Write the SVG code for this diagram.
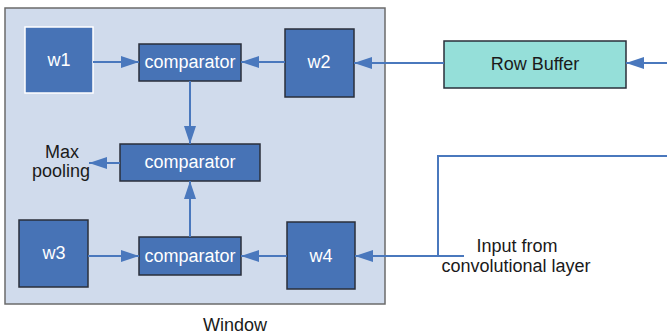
<svg xmlns="http://www.w3.org/2000/svg" width="667" height="335" viewBox="0 0 667 335">
<style>
  .blk { fill: #4773B6; stroke: #2a2f3a; stroke-width: 1.5; }
  .wt { fill: #ffffff; font-family: "Liberation Sans", Arial, sans-serif; font-size: 18px; text-anchor: middle; }
  .lbl { fill: #1a1a1a; font-family: "Liberation Sans", Arial, sans-serif; font-size: 18px; text-anchor: middle; }
  .con { fill: none; stroke: #4A78BD; stroke-width: 2; }
</style>
<defs>
  <marker id="arr" viewBox="0 0 18 12" markerWidth="18" markerHeight="12" refX="18" refY="6" orient="auto" markerUnits="userSpaceOnUse">
    <path d="M0,0 L18,6 L0,12 z" fill="#4A78BD"/>
  </marker>
</defs>
<rect width="667" height="335" fill="#ffffff"/>
<g id="window">
  <rect x="5" y="8" width="380" height="296" fill="#D0DBEC" stroke="#6b6b6b" stroke-width="1.5"/>
  <text class="lbl" x="235" y="331">Window</text>
</g>
<g id="w1">
  <rect x="25" y="27" width="68" height="66" fill="#4773B6" stroke="#ffffff" stroke-width="1.5"/>
  <text class="wt" x="59" y="66">w1</text>
</g>
<g id="comparator1">
  <rect class="blk" x="139" y="44" width="102" height="37"/>
  <text class="wt" x="190" y="68">comparator</text>
</g>
<g id="w2">
  <rect class="blk" x="285" y="29" width="69" height="68"/>
  <text class="wt" x="319" y="68">w2</text>
</g>
<g id="comparator2">
  <rect class="blk" x="120" y="144" width="140" height="37"/>
  <text class="wt" x="190" y="168">comparator</text>
</g>
<g id="maxpooling">
  <text class="lbl" x="62" y="158">Max</text>
  <text class="lbl" x="61" y="177">pooling</text>
</g>
<g id="w3">
  <rect class="blk" x="19" y="220" width="69" height="67"/>
  <text class="wt" x="54" y="259">w3</text>
</g>
<g id="comparator3">
  <rect class="blk" x="139" y="237" width="102" height="38"/>
  <text class="wt" x="190" y="262">comparator</text>
</g>
<g id="w4">
  <rect class="blk" x="287" y="222" width="68" height="67"/>
  <text class="wt" x="321" y="262">w4</text>
</g>
<g id="rowbuffer">
  <rect x="444" y="41" width="182" height="47" fill="#95DFD9" stroke="#2a2f3a" stroke-width="1.5"/>
  <text class="lbl" x="535" y="70">Row Buffer</text>
</g>
<g id="input">
  <text class="lbl" x="517" y="252">Input from</text>
  <text class="lbl" x="516" y="272">convolutional layer</text>
</g>
<g id="connectors">
  <path class="con" d="M93,62 H139" marker-end="url(#arr)"/>
  <path class="con" d="M285,62 H241" marker-end="url(#arr)"/>
  <path class="con" d="M190,81 V144" marker-end="url(#arr)"/>
  <path class="con" d="M190,237 V181" marker-end="url(#arr)"/>
  <path class="con" d="M120,163 H89" marker-end="url(#arr)"/>
  <path class="con" d="M88,256 H139" marker-end="url(#arr)"/>
  <path class="con" d="M287,256 H241" marker-end="url(#arr)"/>
  <path class="con" d="M444,63 H354" marker-end="url(#arr)"/>
  <path class="con" d="M667,63 H626" marker-end="url(#arr)"/>
  <path class="con" d="M667,156 H438 V256 H355" marker-end="url(#arr)"/>
  <path class="con" d="M464,256 H438"/>
</g>
</svg>
